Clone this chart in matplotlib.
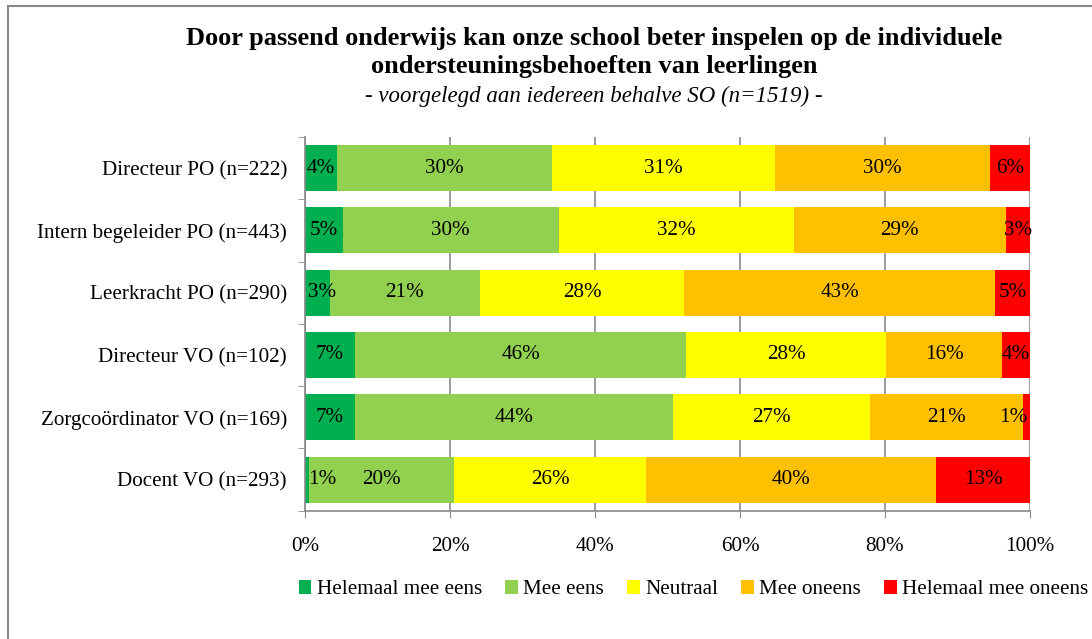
import numpy as np
import matplotlib
matplotlib.use('Agg')
import matplotlib.pyplot as plt
from matplotlib.ticker import MultipleLocator, FuncFormatter
from matplotlib.patches import Rectangle

plt.rcParams['font.family'] = ['Liberation Serif', 'DejaVu Serif']

categories = ['Directeur PO (n=222)', 'Intern begeleider PO (n=443)', 'Leerkracht PO (n=290)',
              'Directeur VO (n=102)', 'Zorgcoördinator VO (n=169)', 'Docent VO (n=293)']
series = ['Helemaal mee eens', 'Mee eens', 'Neutraal', 'Mee oneens', 'Helemaal mee oneens']
helemaal_eens = [4.4, 5.2, 3.4, 6.9, 6.9, 0.6]
mee_eens = [29.7, 29.8, 20.7, 45.7, 43.9, 20.0]
neutraal = [30.7, 32.4, 28.2, 27.6, 27.1, 26.4]
mee_oneens = [29.7, 29.3, 42.9, 16.0, 21.1, 40.1]
helemaal_oneens = [5.6, 3.3, 4.8, 3.8, 1.0, 12.9]
colors = ['#00B050', '#92D050', '#FFFF00', '#FFC000', '#FF0000']

data = [helemaal_eens, mee_eens, neutraal, mee_oneens, helemaal_oneens]
fs = 15.2

fig = plt.figure(figsize=(10.92, 6.39), dpi=100)
ax = fig.add_axes([0.2793, 0.2008, 0.6639, 0.5848])

y = np.arange(len(categories))
left = np.zeros(len(categories))
for vals, name, c in zip(data, series, colors):
    vals = np.array(vals)
    ax.barh(y, vals, left=left, height=0.74, color=c, label=name, zorder=2)
    for yi, l, v in zip(y, left, vals):
        xc = l + v / 2
        ha = 'center'
        if xc < 2:
            xc, ha = 0.4, 'left'
        elif xc > 99.3:
            xc, ha = 99.7, 'right'
        ax.text(xc, yi, '%d%%' % round(v), ha=ha, va='center', fontsize=fs, zorder=3)
    left = left + vals

ax.set_xlim(0, 100)
ax.set_ylim(len(categories) - 0.5, -0.5)
ax.xaxis.set_major_locator(MultipleLocator(20))
ax.xaxis.set_major_formatter(FuncFormatter(lambda v, p: '%d%%' % v))
ax.set_yticks(y)
ax.set_yticklabels(categories, fontsize=fs)
ax.set_yticks(np.arange(len(categories) + 1) - 0.5, minor=True)
ax.tick_params(axis='y', which='major', length=0, pad=13)
ax.tick_params(axis='y', which='minor', length=5, color='#888888')
ax.tick_params(axis='x', length=5, color='#888888', labelsize=fs, pad=14)
ax.grid(axis='x', color='#8c8c8c', linewidth=1.2, zorder=0)
for s in ['top', 'right']:
    ax.spines[s].set_visible(False)
ax.spines['left'].set_color('#888888')
ax.spines['bottom'].set_color('#888888')
ax.spines['left'].set_linewidth(1.2)
ax.spines['bottom'].set_linewidth(1.2)

fig.text(0.544, 0.918, 'Door passend onderwijs kan onze school beter inspelen op de individuele\n'
         'ondersteuningsbehoeften van leerlingen', ha='center', va='center',
         fontsize=19, fontweight='bold', linespacing=1.3)
fig.text(0.544, 0.849, '- voorgelegd aan iedereen behalve SO (n=1519) -', ha='center', va='center',
         fontsize=16.5, style='italic')

fig.legend(loc='center', bbox_to_anchor=(0.635, 0.077), ncol=5, frameon=False, fontsize=fs,
           handlelength=0.6, handleheight=0.6, handletextpad=0.25, columnspacing=1.1)

fig.patches.append(Rectangle((8 / 1092, -0.1), 1.2, 1 - 6 / 639 + 0.1, transform=fig.transFigure,
                             fill=False, edgecolor='#888888', linewidth=1.5))

fig.savefig('out.png', dpi=100)
